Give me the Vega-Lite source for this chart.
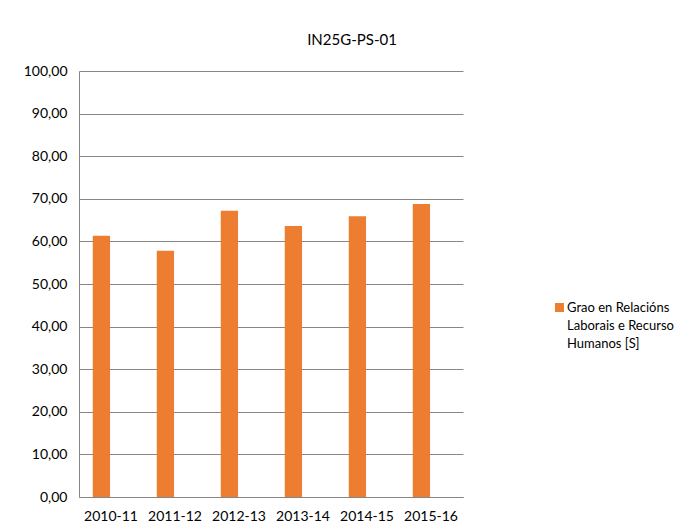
{
  "$schema": "https://vega.github.io/schema/vega-lite/v6.json",
  "autosize": "none",
  "width": 384,
  "height": 426,
  "padding": {"left": 79, "top": 71, "right": 220, "bottom": 29},
  "background": "white",
  "title": {
    "text": "IN25G-PS-01",
    "anchor": "middle",
    "frame": "group",
    "dx": 81,
    "offset": 16,
    "font": "Lato",
    "fontSize": 15,
    "fontWeight": "normal",
    "color": "#000000"
  },
  "data": {
    "values": [
      {"curso": "2010-11", "valor": 61.3, "serie": "Grao en Relacións Laborais e Recurso Humanos [S]"},
      {"curso": "2011-12", "valor": 57.8, "serie": "Grao en Relacións Laborais e Recurso Humanos [S]"},
      {"curso": "2012-13", "valor": 67.2, "serie": "Grao en Relacións Laborais e Recurso Humanos [S]"},
      {"curso": "2013-14", "valor": 63.6, "serie": "Grao en Relacións Laborais e Recurso Humanos [S]"},
      {"curso": "2014-15", "valor": 65.9, "serie": "Grao en Relacións Laborais e Recurso Humanos [S]"},
      {"curso": "2015-16", "valor": 68.8, "serie": "Grao en Relacións Laborais e Recurso Humanos [S]"}
    ]
  },
  "mark": {"type": "bar"},
  "encoding": {
    "x": {
      "field": "curso",
      "type": "nominal",
      "sort": null,
      "scale": {"paddingInner": 0.4, "paddingOuter": 0.2},
      "axis": {
        "title": null,
        "labelAngle": 0,
        "labelFont": "Lato",
        "labelFontSize": 14,
        "labelColor": "#000000",
        "labelPadding": 12,
        "ticks": false,
        "domainColor": "#868686",
        "domainWidth": 1,
        "grid": false
      }
    },
    "xOffset": {
      "field": "serie",
      "type": "nominal",
      "scale": {"domain": ["Grao en Relacións Laborais e Recurso Humanos [S]", "_"], "paddingInner": 0.1, "paddingOuter": 0.05}
    },
    "y": {
      "field": "valor",
      "type": "quantitative",
      "scale": {"domain": [0, 100], "nice": false},
      "axis": {
        "title": null,
        "values": [0, 10, 20, 30, 40, 50, 60, 70, 80, 90, 100],
        "labelExpr": "replace(format(datum.value, '.2f'), '.', ',')",
        "labelFont": "Lato",
        "labelFontSize": 14,
        "labelColor": "#000000",
        "labelPadding": 12,
        "ticks": false,
        "domainColor": "#868686",
        "domainWidth": 1,
        "gridColor": "#868686",
        "gridWidth": 1,
        "gridOpacity": 1
      }
    },
    "color": {
      "field": "serie",
      "type": "nominal",
      "scale": {"range": ["#ED7D31"]},
      "legend": {
        "title": null,
        "orient": "none",
        "legendX": 474,
        "legendY": 230,
        "symbolType": "square",
        "symbolSize": 81,
        "symbolStrokeWidth": 0,
        "symbolOpacity": 1,
        "labelFont": "Lato",
        "labelFontSize": 13,
        "labelColor": "#000000",
        "labelOffset": 1,
        "labelLimit": 300,
        "labelExpr": "['Grao en Relacións', 'Laborais e Recurso', 'Humanos [S]']"
      }
    }
  },
  "config": {
    "view": {"stroke": null},
    "style": {"guide-label": {"lineHeight": 18}}
  }
}
